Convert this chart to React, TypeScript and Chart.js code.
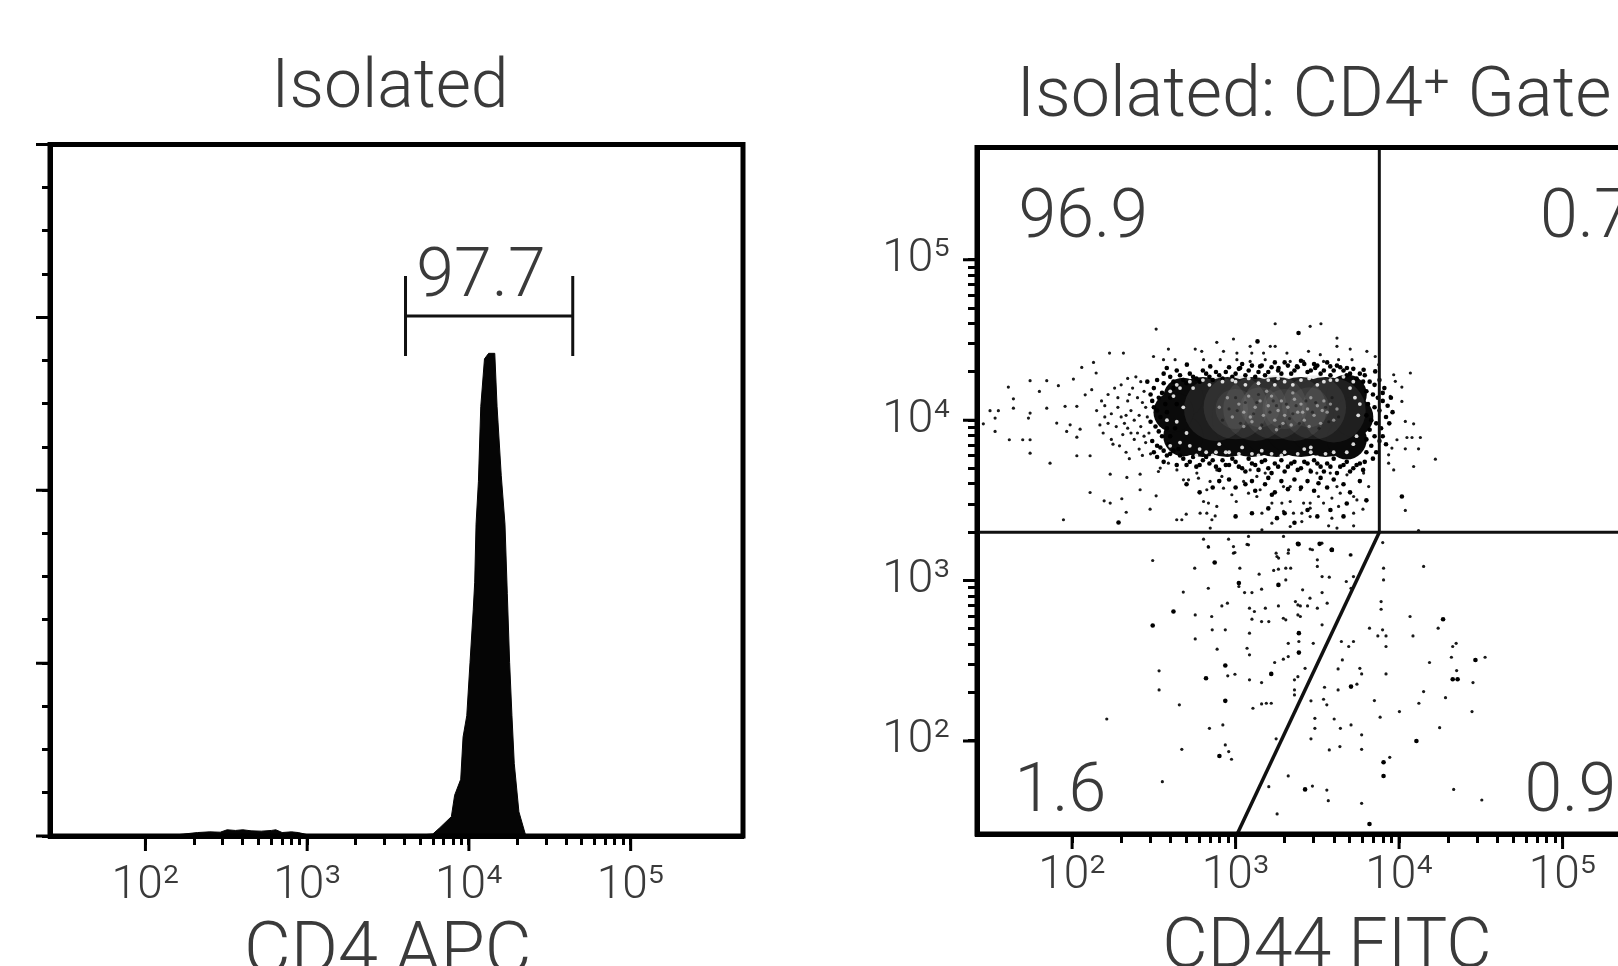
import React, { useEffect, useRef } from "react";
import { Chart, registerables } from "chart.js";
Chart.register(...registerables);

const INK = "#3a3a3a";
const FONT = "Roboto, 'Liberation Sans', sans-serif";

// ---------- Panel 1: CD4 APC histogram ----------
const histX = [26, 110, 160, 210, 250, 290, 320, 360, 400, 450, 520, 600, 640, 700, 800, 880, 1000, 1500, 3000, 4800, 5990, 6610, 7790, 8160, 8900, 9200, 9700, 10160, 10640, 10860, 11070, 11450, 11840, 12480, 13240, 14450, 14930, 15850, 16710, 17270, 17850, 18450, 19070, 20370, 22490, 30000, 500000];
const histY = [0, 0.1, 0.2, 0.5, 0.6, 0.55, 0.9, 0.8, 0.9, 0.75, 0.7, 0.8, 0.9, 0.5, 0.6, 0.5, 0.2, 0.1, 0.1, 0.1, 0.3, 1.2, 2.8, 5.9, 8.2, 14.3, 17.4, 25.1, 32.8, 36.7, 45.1, 51.3, 62.1, 69, 69.8, 69.8, 62.1, 52.1, 45.1, 35.1, 25.1, 17.4, 10.5, 3.5, 0, 0, 0];
const gateLow = 4055;
const gateHigh = 43850;
const gateLevel = 75.2;
const gateCapLow = 69.4;
const gateCapHigh = 81;
const gateLabel = "97.7";
const gateLabelX = 11890;
const gateLabelY = 80.5;

const decadeTicks = [100, 200, 300, 400, 500, 600, 700, 800, 900, 1000, 2000, 3000, 4000, 5000, 6000, 7000, 8000, 9000, 10000, 20000, 30000, 40000, 50000, 60000, 70000, 80000, 90000, 100000];
const decadeLabels: Record<number, string> = { 100: "10²", 1000: "10³", 10000: "10⁴", 100000: "10⁵" };
const countTicks = [0, 6.25, 12.5, 18.75, 25, 31.25, 37.5, 43.75, 50, 56.25, 62.5, 68.75, 75, 81.25, 87.5, 93.75, 100];
const countMajor = [0, 25, 50, 75, 100];

// ---------- Panel 2: CD44 FITC / CD4 scatter (log10 values) ----------
const smallEvents: [number, number][] = [
  [2.493,3.125],[2.75,3.077],[3.026,3.077],[2.996,3.175],[3.07,3.225],[2.833,3.212],[3.248,3.171],[3.263,3.14],[3.322,3.171],[3.47,3.192],[3.5,3.129],[3.5,3.088],[3.706,3.16],[3.721,3.025],[3.677,2.994],[3.706,2.952],[3.529,3.025],[3.573,3.021],
  [3.307,3.077],[3.262,3.071],[3.233,3.063],[3.337,3.077],[3.144,3.04],[3.307,3.004],[3.02,2.963],[3.055,2.925],[3.1,2.925],[3.159,2.946],[2.833,2.952],[2.68,2.928],[3.41,2.942],[3.529,2.925],[3.455,2.89],[3.366,2.869],[3.396,2.842],[3.44,2.842],[3.381,2.848],[3.56,2.859],[3.5,2.828],[3.262,2.842],[3.182,2.828],[3.085,2.828],[3.115,2.807],[2.95,2.859],[2.916,2.842],
  [2.753,2.786],[2.854,2.776],[3.1,2.759],[3.159,2.744],[3.203,2.744],[3.292,2.765],[3.307,2.755],[3.381,2.786],[3.396,2.776],[3.529,2.724],[2.857,2.693],[2.937,2.693],[3.085,2.672],[2.753,2.636],[3.387,2.62],[3.322,2.609],[3.475,2.609],[3.07,2.578],[2.887,2.572],[3.085,2.537],[3.322,2.526],[3.292,2.51],[3.239,2.489],[3.425,2.453],[2.996,2.416],[2.952,2.406],[2.532,2.437],[2.532,2.318],[3.085,2.381],[3.159,2.364],[3.381,2.401],[3.36,2.381],[3.36,2.318],[3.36,2.287],[3.544,2.335],
  [2.656,2.225],[3.106,2.204],[3.159,2.231],[3.188,2.235],[3.218,2.235],[2.212,2.137],[3.461,2.25],[3.538,2.26],[3.558,2.225],[2.84,2.079],[2.922,2.1],[3.485,2.141],[3.485,2.079],[3.603,2.137],[3.641,2.079],[3.706,2.1],[3.771,2.038],[3.248,2.013],[3.461,2.013],[2.937,1.975],[2.671,1.948],[2.958,1.934],[2.975,1.886],[3.573,1.944],[3.638,1.965],[3.771,1.948],[3.943,1.898],[3.322,1.782],[2.552,1.746],[3.203,1.715],[3.47,1.719],[3.558,1.694],[3.567,1.628],[3.771,1.611],[3.254,1.545],[4.334,1.698],[4.506,1.632],
  [4.248,2.083],[4.002,2.183],[3.884,2.148],[4.121,2.235],[4.284,2.27],[4.15,2.308],[4.446,2.183],[3.849,2.252],[4.452,2.364],[4.352,2.439],[4.186,2.489],[4.32,2.522],[4.526,2.522],[4.328,2.589],[4.349,2.609],[4.085,2.655],[4.239,2.703],[4.067,2.776],[4.15,3.088],[3.905,3.077],[3.905,3.004],[3.89,2.869],[3.89,2.821],[3.819,2.703],[3.899,2.693],[3.87,2.655],[3.92,2.655],[3.92,2.589],[3.721,2.62],[3.692,2.589],[3.647,2.62],[3.653,2.505],[3.627,2.449],[3.76,2.453],[3.771,2.418],[3.92,2.418],[3.742,2.354],[3.627,2.318],
  [2.233,3.663],[2.335,3.643],[2.416,3.663],[2.416,3.566],[2.11,3.549],[2.196,3.497],[2.233,3.483],[2.304,3.51],[2.514,3.528],[2.477,3.445],[2.331,3.426],[1.947,3.379],[2.64,3.379],[2.671,3.379],[2.698,3.414],[2.783,3.42],[2.824,3.42],[2.875,3.403],[2.855,3.379],[2.845,3.327],[2.804,3.493],[2.834,3.483],[2.885,3.462],[2.539,3.701],[2.528,3.68],[2.589,3.732],[2.641,3.69],[2.681,3.628],[2.712,3.628],[2.763,3.67],[2.773,3.638],[2.824,3.566],
  [2.885,3.69],[2.916,3.649],[2.926,3.576],[3.049,3.618],[2.977,3.535],[3.004,3.493],[2.844,3.618],[3.089,3.69],[3.13,3.649],[3.181,3.67],[3.15,3.566],[3.079,3.545],[3.13,3.524],[3.222,3.483],[3.283,3.483],[3.334,3.493],[3.293,3.586],[3.334,3.586],[3.396,3.566],[3.456,3.483],[3.507,3.524],[3.416,3.483],[3.538,3.483],[3.456,3.69],[3.497,3.67],[3.579,3.67],[3.62,3.586],[3.64,3.545],[3.722,3.524],[3.742,3.503],[3.681,3.659],[3.783,3.67],[3.814,3.586],[3.589,3.514],[3.63,3.462],[3.779,3.445],
  [3.161,3.42],[3.222,3.358],[3.293,3.431],[3.354,3.42],[3.405,3.42],[3.405,3.368],[3.456,3.451],[3.456,3.399],[3.589,3.389],[3.62,3.327],[3.722,3.42],[3.722,3.341],[3.569,3.341],[3.334,3.337],[3.161,3.316],
  [3.967,4.283],[4.069,4.294],[4.017,4.206],[4.017,4.117],[3.946,4.148],[3.977,4.242],[4.038,3.992],[4.089,3.977],[3.987,3.878],[4.048,3.892],[4.079,3.892],[4.13,3.892],[4.038,3.821],[4.119,3.821],[3.956,3.826],[3.936,3.784],[3.936,3.732],[3.967,3.69],[4.089,3.711],[4.222,3.757],[4.038,3.437],[4.119,3.312],[3.9,3.237],
  [2.804,3.258],[2.957,3.258],[2.834,3.208],[2.987,3.212],[2.987,3.171],[3.079,3.275],[3.079,3.223],[3.293,3.275],[3.456,3.196],[3.528,3.233],[3.701,3.16],[3.253,3.15],[3.324,3.191],
  [2.514,4.568],[3.242,4.601],[3.456,4.585],[3.522,4.601],[2.987,4.506],[3.62,4.512],[3.62,4.46],[3.089,4.46],[3.212,4.46],[3.242,4.46],[2.885,4.485],[2.589,4.443],[2.753,4.443],[2.793,4.429],[2.926,4.429],[3.008,4.418],[3.099,4.418],[3.171,4.418],[3.314,4.418],[3.446,4.429],[3.518,4.408],[3.701,4.443],[3.803,4.429],[2.559,4.377],[2.63,4.377],[2.498,4.397],[2.804,4.377],[2.906,4.377],[3.008,4.377],[3.089,4.366],[3.181,4.377],[3.334,4.366],[3.416,4.366],[3.538,4.366],[3.63,4.377],[3.712,4.377],[3.854,4.397],[3.875,4.346],
  [1.61,4.206],[1.641,4.133],[1.641,4.075],[1.743,4.246],[1.845,4.246],[1.8,4.179],[1.916,4.215],[2.008,4.256],[2.059,4.329],[2.131,4.36],[2.229,4.418],[2.314,4.418],[2.147,4.294],[2.08,4.158],[2.12,4.19],[1.957,4.086],[2.029,4.086],[1.845,4.075],[1.743,4.044],[1.529,4.013],[1.457,3.977],[1.733,4.013],[1.529,3.93],[1.616,3.878],[1.698,3.878],[1.743,3.878],[1.743,3.794],[1.906,3.982],[1.988,3.971],[2.049,3.944],[1.967,3.93],[2.029,3.894],[2.029,3.778],[2.11,3.778],[1.498,4.059],[1.549,4.059],[1.865,3.732],
  [2.15,4.06],[2.18,4.12],[2.2,4.02],[2.22,3.98],[2.19,3.92],[2.24,3.88],[2.22,4.16],[2.26,4.2],[2.28,4.08],[2.3,4.02],[2.27,3.96],[2.31,3.91],[2.29,3.84],[2.33,3.8],[2.35,3.76],[2.34,4.12],[2.36,4.06],[2.38,4.0],[2.34,3.95],[2.38,3.88],[2.41,3.82],[2.43,3.78],[2.37,4.2],[2.4,4.14],[2.42,4.24],[2.44,4.18],[2.45,4.08],[2.46,4.02],[2.42,3.96],[2.47,3.92],[2.45,3.86],[2.48,3.79],[2.39,4.27],[2.34,4.26],[2.3,4.22],[2.25,3.85],[2.2,4.09],[2.17,3.97],[2.33,4.03],[2.4,3.92],[2.44,3.9],[2.35,4.16],[2.32,3.98],[2.36,3.92],[2.28,4.14],[2.24,4.04],[2.43,4.11],[2.41,4.03]
];
const largeEvents: [number, number][] = [
  [2.872,3.113],[3.381,3.229],[3.514,3.229],[3.588,3.192],[3.262,2.973],[3.02,2.984],[2.62,2.807],[3.387,2.672],[2.493,2.72],[3.387,2.551],[2.937,2.47],[3.218,2.418],[2.819,2.391],[2.937,2.25],[2.901,1.906],[3.905,1.867],[3.905,1.782],[3.425,1.698],[3.819,1.482],[4.106,2.0],[4.328,2.385],[4.358,2.385],[4.467,2.505],[4.269,2.759],[3.706,2.339],
  [2.284,3.362],[3.222,3.535],[3.507,3.607],[3.253,3.389],[3.385,3.227],[3.589,3.191],[3.385,4.543],[3.134,4.491],[4.017,3.524],
  [3.79,4.28],[3.82,4.24],[3.85,4.22],[3.88,4.25],[3.91,4.2],[3.8,4.18],[3.84,4.16],[3.87,4.14],[3.9,4.12],[3.93,4.09],[3.81,4.1],[3.85,4.08],[3.88,4.06],[3.92,4.02],[3.94,3.98],[3.8,4.03],[3.83,4.0],[3.86,3.98],[3.89,3.95],[3.82,3.94],[3.85,3.9],[3.88,3.87],[3.8,3.88],[3.83,3.84],[3.86,3.8],[3.8,3.8],[3.9,3.9],[3.92,3.85],[3.84,3.76],[3.79,3.74],[3.9,4.17],[3.95,4.14],[3.96,4.05],
  [2.52,3.77],[2.56,3.74],[2.6,3.79],[2.64,3.72],[2.68,3.76],[2.72,3.74],[2.76,3.71],[2.8,3.75],[2.84,3.73],[2.88,3.71],[2.92,3.75],[2.96,3.72],[3.0,3.74],[3.04,3.7],[3.08,3.76],[3.12,3.72],[3.16,3.74],[3.2,3.7],[3.24,3.73],[3.28,3.75],[3.32,3.71],[3.36,3.74],[3.4,3.7],[3.44,3.73],[3.48,3.75],[3.52,3.71],[3.56,3.73],[3.6,3.76],[3.64,3.71],[3.68,3.74],[3.72,3.7],[3.76,3.73],
  [2.52,4.25],[2.56,4.29],[2.6,4.27],[2.64,4.31],[2.68,4.25],[2.72,4.29],[2.76,4.26],[2.8,4.31],[2.84,4.27],[2.88,4.3],[2.92,4.26],[2.96,4.33],[3.0,4.29],[3.04,4.35],[3.08,4.31],[3.12,4.27],[3.16,4.34],[3.2,4.3],[3.24,4.36],[3.28,4.29],[3.32,4.34],[3.36,4.31],[3.4,4.37],[3.44,4.3],[3.48,4.35],[3.52,4.29],[3.56,4.36],[3.6,4.31],[3.64,4.33],[3.68,4.28],[3.72,4.32],[3.76,4.29],
  [2.579,4.325],[2.702,4.346],[2.845,4.335],[3.028,4.325],[3.15,4.335],[3.263,4.325],[3.375,4.335],[3.487,4.325],[3.579,4.335],[3.681,4.325],[3.783,4.314],[3.854,4.304],
  [2.5,4.2],[2.53,4.14],[2.5,4.08],[2.54,4.02],[2.51,3.96],[2.55,3.9],[2.52,3.84],[2.56,4.23],[2.57,4.1],[2.58,3.95],[2.59,3.85],
  [2.62,4.24],[2.66,4.28],[2.7,4.23],[2.74,4.27],[2.78,4.24],[2.82,4.29],[2.86,4.25],[2.9,4.28],[2.94,4.3],[2.98,4.27],[3.02,4.32],[3.06,4.28],[3.1,4.34],[3.14,4.3],[3.18,4.28],[3.22,4.33],[3.26,4.31],[3.3,4.36],[3.34,4.29],[3.38,4.33],[3.42,4.35],[3.46,4.31],[3.5,4.34],[3.54,4.31],[3.58,4.28],[3.62,4.34],[3.66,4.31],[3.7,4.29],[3.74,4.26],[3.78,4.24],
  [2.5,3.8],[2.54,3.83],[2.58,3.78],[2.62,3.81],[2.66,3.78],[2.7,3.72],[2.74,3.77],[2.78,3.72],[2.82,3.77],[2.86,3.75],[2.9,3.69],[2.94,3.72],[2.98,3.76],[3.02,3.71],[3.06,3.68],[3.1,3.73],[3.14,3.69],[3.18,3.75],[3.22,3.67],[3.26,3.71],[3.3,3.68],[3.34,3.73],[3.38,3.69],[3.42,3.74],[3.46,3.68],[3.5,3.73],[3.54,3.68],[3.58,3.71],[3.62,3.67],[3.66,3.72],[3.7,3.68],[3.74,3.72],[3.78,3.69],
  [2.46,4.24],[2.49,4.12],[2.52,4.06],[2.48,3.99],[2.53,3.93],[2.49,3.87],[2.56,3.81],[2.55,4.17],[2.58,4.05],[2.6,3.9],[2.6,4.14],[2.62,4.2],[2.63,3.95],[2.64,4.1],[2.65,3.82],[2.48,4.16],
  [2.7,3.6],[2.78,3.55],[2.86,3.58],[2.9,3.62],[2.96,3.63],[3.0,3.58],[3.06,3.6],[3.1,3.62],[3.12,3.56],[3.18,3.6],[3.2,3.64],[3.24,3.55],[3.28,3.62],[3.32,3.57],[3.36,3.63],[3.4,3.58],[3.44,3.62],[3.48,3.56],[3.52,3.64],[3.56,3.58],[3.6,3.63],[3.66,3.6],[3.7,3.55],[3.76,3.62],[3.8,3.5],[3.2,3.45],[3.3,3.42],[3.44,3.44],[3.5,3.4],[3.58,3.44],[3.66,3.4],[3.1,3.42],[3.0,3.4],[3.36,3.36],[3.68,3.48]
];
const denseBody: [number, number][] = [[2.8,4.02],[2.95,4.02],[3.1,4.02],[3.25,4.02],[3.4,4.02],[3.55,4.02]];
const denseCorners: [number, number][] = [[2.68,4.14],[2.68,3.9],[3.68,4.16],[3.68,3.88],[2.62,4.05],[3.72,4.02]];
const coreHazeWide: [number, number][] = [[2.88,4.07],[3.0,4.08],[3.12,4.07],[3.24,4.08],[3.36,4.07],[3.48,4.08],[3.6,4.06]];
const coreHazeInner: [number, number][] = [[3.0,4.07],[3.15,4.08],[3.3,4.07],[3.45,4.08]];
const lightSpecks: [number, number][] = [
  [2.9,4.08],[2.95,4.14],[2.98,4.02],[3.02,4.1],[3.05,4.05],[3.08,4.15],[3.1,3.99],[3.12,4.08],[3.15,4.12],[3.17,4.03],[3.2,4.09],[3.22,4.15],[3.24,4.0],[3.26,4.06],[3.28,4.12],[3.3,4.03],[3.32,4.08],[3.34,3.97],[3.36,4.13],[3.38,4.05],[3.4,4.1],[3.42,4.0],[3.44,4.07],[3.46,4.14],[3.48,4.03],[3.5,4.09],[3.52,3.98],[3.54,4.12],[3.56,4.05],[3.58,4.1],[3.6,4.0],[3.62,4.07],[3.05,3.96],[3.15,3.95],[3.25,3.94],[3.35,4.17],[3.45,3.96],[3.19,4.18],[3.29,3.98],[3.09,4.02],[3.41,4.05],[3.53,4.06]
];
const darkSpecks: [number, number][] = [
  [2.92,4.0],[2.96,4.07],[3.0,4.14],[3.03,3.98],[3.06,4.11],[3.11,4.04],[3.14,4.16],[3.16,3.97],[3.21,4.05],[3.23,4.12],[3.27,3.96],[3.31,4.1],[3.33,4.01],[3.37,4.09],[3.39,3.98],[3.43,4.12],[3.47,4.05],[3.51,3.95],[3.55,4.08],[3.59,4.14],[3.63,4.02],[3.01,4.06],[3.13,4.11],[3.25,4.09],[3.35,4.04],[3.49,4.11],[3.57,3.99]
];
const whiteSpecks: [number, number][] = [
  [2.62,4.15],[2.68,4.08],[2.7,3.92],[2.66,3.86],[2.74,4.2],[2.78,3.82],[2.84,4.22],[2.9,3.85],[2.96,3.8],[3.0,4.24],[3.1,3.79],[3.06,4.22],[3.2,4.25],[3.3,3.8],[3.35,4.22],[3.42,3.82],[3.5,4.22],[3.55,3.79],[3.62,4.25],[3.68,3.8],[3.7,4.2],[3.74,3.9],[3.76,4.1],[2.88,3.8],[3.04,3.83],[3.16,3.81],[3.26,4.26],[3.46,3.83],
  [2.58,4.0],[2.6,4.18],[2.64,3.99],[2.66,4.2],[2.72,3.84],[2.72,4.24],[2.76,3.78],[2.8,4.25],[2.82,3.8],[2.86,3.78],[2.92,4.24],[2.94,3.8],[2.98,4.25],[3.02,3.79],[3.08,4.26],[3.14,3.78],[3.14,4.23],[3.22,3.79],[3.24,4.22],[3.28,3.78],[3.3,4.24],[3.38,3.79],[3.4,4.25],[3.46,3.8],[3.45,4.26],[3.54,4.24],[3.5,3.77],[3.6,3.8],[3.58,4.25],[3.66,4.27],[3.72,3.85],[3.72,4.24],[3.75,4.03],[3.73,4.14],[2.64,4.22],[2.6,3.84]
];
const quadH = 2000;
const quadV = 7570;
const diagBottomX = 1023;
const quadrantLabels = [
  { text: "96.9", x: 47, y: 175800 },
  { text: "0.7", x: 72800, y: 175800 },
  { text: "1.6", x: 44.4, y: 47 },
  { text: "0.9", x: 58400, y: 47 },
];

const toEvents = (rows: [number, number][]) => rows.map(([ex, ey]) => ({ x: 10 ** ex, y: 10 ** ey }));

// ---------- shared drawing ----------
const frame = {
  id: "frame",
  afterLayout(chart: any, _a: any, opts: any) {
    // the value axis keeps a narrow box for the title's centring; let its labels paint further left
    if (opts.labelBleed) chart.scales.y.left -= opts.labelBleed;
  },
  afterDatasetsDraw(chart: any, _a: any, opts: any) {
    const { ctx, chartArea: a, scales } = chart;
    ctx.save();
    ctx.strokeStyle = "#000";
    ctx.lineWidth = 3;
    const xs = scales.x;
    const ys = scales.y;
    ctx.beginPath();
    for (const v of opts.xMajor || []) { const p = xs.getPixelForValue(v); ctx.moveTo(p, a.bottom); ctx.lineTo(p, a.bottom + 15); }
    for (const v of opts.yMajor || []) { const p = ys.getPixelForValue(v); ctx.moveTo(a.left, p); ctx.lineTo(a.left - 14, p); }
    ctx.stroke();
    ctx.lineWidth = 5;
    ctx.strokeRect(a.left, a.top, a.right - a.left, a.bottom - a.top);
    ctx.fillStyle = INK;
    ctx.font = `300 68px ${FONT}`;
    ctx.textBaseline = "middle";
    for (const l of opts.labels || []) {
      ctx.textAlign = l.align || "left";
      ctx.fillText(l.text, xs.getPixelForValue(l.x), ys.getPixelForValue(l.y));
    }
    ctx.restore();
  },
};

const logAxis = (min: number, max: number, ticks: number[], labels: Record<number, string>, cfg: any) => ({
  type: "logarithmic",
  min,
  max,
  afterBuildTicks: (s: any) => { s.ticks = ticks.map((value) => ({ value })); },
  border: { display: true, color: "#000", width: 5 },
  grid: { drawOnChartArea: false, drawTicks: true, tickLength: 9, tickColor: "#000", tickWidth: 3 },
  ...cfg,
  ticks: {
    autoSkip: false, maxRotation: 0, minRotation: 0, color: INK,
    font: { family: FONT, size: 46, weight: "300" },
    callback: (v: number) => labels[v] ?? "",
    ...cfg.ticks,
  },
});

const axisTitle = (text: string, size: number, bottom: number) => ({
  display: true, text, color: INK,
  font: { family: FONT, size, weight: "300" },
  padding: { top: 0, bottom },
});

const chartTitle = (text: string, size: number, top: number, bottom: number) => ({
  display: true, text, color: INK,
  font: { family: FONT, size, weight: "300" },
  padding: { top, bottom },
});

export default function App() {
  const leftRef = useRef<HTMLCanvasElement>(null);
  const rightRef = useRef<HTMLCanvasElement>(null);

  useEffect(() => {
    const line = (data: any[], width = 3) => ({
      type: "line", data, borderColor: "#111", borderWidth: width, pointRadius: 0, fill: false, tension: 0,
    });
    const left = new Chart(leftRef.current!, {
      type: "line",
      data: {
        datasets: [
          line([{ x: gateLow, y: gateLevel }, { x: gateHigh, y: gateLevel }]),
          line([{ x: gateLow, y: gateCapLow }, { x: gateLow, y: gateCapHigh }]),
          line([{ x: gateHigh, y: gateCapLow }, { x: gateHigh, y: gateCapHigh }]),
          { data: histX.map((x, i) => ({ x, y: histY[i] })), borderColor: "#050505", backgroundColor: "#050505", borderWidth: 1, pointRadius: 0, fill: "origin", tension: 0 },
        ] as any,
      },
      options: {
        responsive: false, animation: false,
        layout: { padding: { left: 37, right: 37, top: 0, bottom: 0 } },
        plugins: {
          legend: { display: false }, tooltip: { enabled: false },
          title: chartTitle("Isolated", 68, 49, 13.9),
          frame: { xMajor: [100, 1000, 10000, 100000], yMajor: countMajor, labels: [{ text: gateLabel, x: gateLabelX, y: gateLabelY, align: "center" }] },
        } as any,
        scales: {
          x: logAxis(25.7, 495000, decadeTicks, decadeLabels, {
            afterFit: (s: any) => { s.height = 164; },
            ticks: { padding: 14 },
            title: axisTitle("CD4 APC\u00a0", 72, 2),
          }),
          y: {
            type: "linear", min: 0, max: 100,
            afterBuildTicks: (s: any) => { s.ticks = countTicks.map((value) => ({ value })); },
            afterFit: (s: any) => { s.width = 13; },
            border: { display: true, color: "#000", width: 5 },
            grid: { drawOnChartArea: false, tickLength: 8, tickColor: "#000", tickWidth: 3 },
            ticks: { callback: () => "", autoSkip: false },
          },
        } as any,
      },
      plugins: [frame],
    });

    const scatter = (rows: [number, number][], color: string, radius: number) => ({
      type: "scatter", data: toEvents(rows), backgroundColor: color, borderWidth: 0, pointRadius: radius, showLine: false,
    });
    const right = new Chart(rightRef.current!, {
      type: "scatter",
      data: {
        datasets: [
          line([{ x: 26.2, y: quadH }, { x: 501000, y: quadH }]),
          line([{ x: quadV, y: quadH }, { x: quadV, y: 501000 }]),
          line([{ x: quadV, y: quadH }, { x: diagBottomX, y: 26.3 }], 3.5),
          scatter(whiteSpecks, "rgba(255,255,255,0.85)", 1.9),
          scatter(darkSpecks, "rgba(0,0,0,0.4)", 1.6),
          scatter(lightSpecks, "rgba(215,215,215,0.55)", 1.7),
          scatter(largeEvents, "#000", 2.3),
          scatter(smallEvents, "rgba(0,0,0,0.9)", 1.6),
          scatter(coreHazeInner, "rgba(150,150,150,0.13)", 20),
          scatter(coreHazeWide, "rgba(135,135,135,0.17)", 32),
          scatter(denseCorners, "#0a0a0a", 20),
          scatter(denseBody, "#0a0a0a", 40),
        ] as any,
      },
      options: {
        responsive: false, animation: false,
        layout: { padding: { left: 131, right: 131, top: 0, bottom: 0 } },
        plugins: {
          legend: { display: false }, tooltip: { enabled: false },
          title: chartTitle("Isolated: CD4⁺ Gate", 70, 56, 7.5),
          frame: { labelBleed: 120, xMajor: [100, 1000, 10000, 100000], yMajor: [100, 1000, 10000, 100000], labels: quadrantLabels },
        } as any,
        scales: {
          x: logAxis(26.2, 501000, decadeTicks, decadeLabels, {
            afterFit: (s: any) => { s.height = 166; },
            ticks: { padding: 6 },
            title: axisTitle("CD44 FITC", 70, 9),
          }),
          y: logAxis(26.3, 501000, decadeTicks, decadeLabels, {
            afterFit: (s: any) => { s.width = 26; },
            ticks: { padding: 18 },
          }),
        } as any,
      },
      plugins: [frame],
    });
    return () => { left.destroy(); right.destroy(); };
  }, []);

  const soft = { position: "absolute", top: 0, filter: "blur(0.5px)" } as const;
  return (
    <div style={{ position: "fixed", left: 0, top: 0, width: 1618, height: 966, overflow: "hidden", background: "#fff" }}>
      <canvas ref={leftRef} width={780} height={1000} style={{ ...soft, left: 0 }} />
      <canvas ref={rightRef} width={988} height={1000} style={{ ...soft, left: 820 }} />
    </div>
  );
}
